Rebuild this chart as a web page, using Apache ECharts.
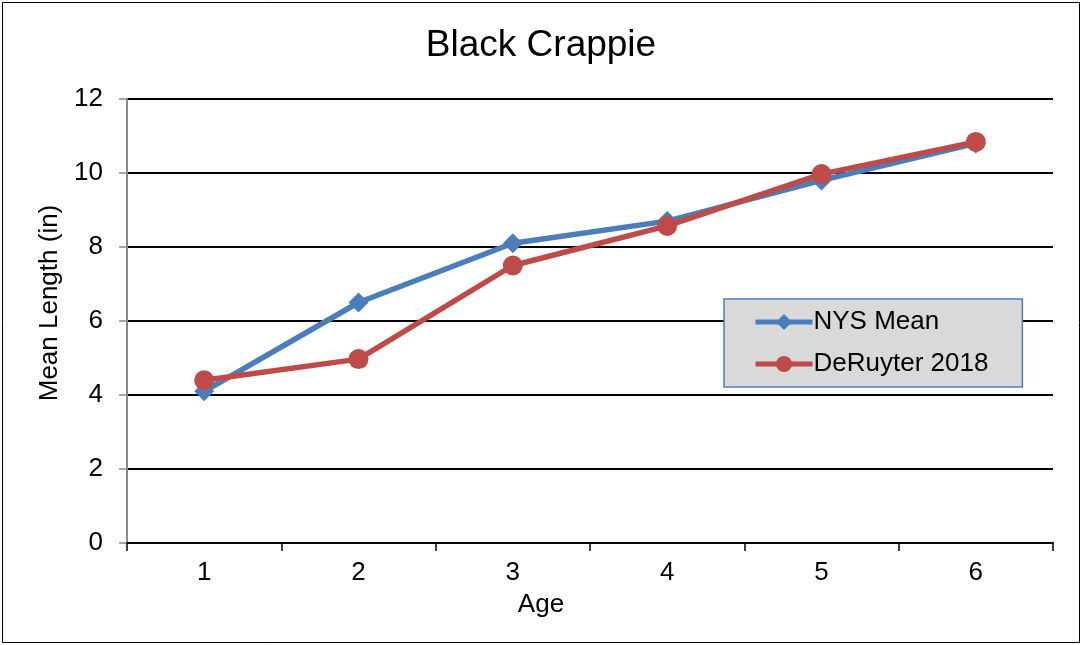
<!DOCTYPE html>
<html>
<head>
<meta charset="utf-8">
<script src="https://cdn.jsdelivr.net/npm/echarts@6/dist/echarts.min.js"></script>
<style>
  html, body { margin: 0; padding: 0; background: #fff; }
  #chart { width: 1082px; height: 645px; }
</style>
</head>
<body>
<div id="chart"></div>
<script>
// ages on the x axis
const ages = ['1', '2', '3', '4', '5', '6'];
// mean length (in) per age
const nysMean = [4.1, 6.5, 8.1, 8.7, 9.8, 10.8];
const deRuyter2018 = [4.4, 4.97, 7.5, 8.57, 9.97, 10.84];

const FONT = 'Liberation Sans, Arial, sans-serif';
const BLUE = '#4a7ebb';
const RED = '#be4b48';

const chart = echarts.init(document.getElementById('chart'), null, { renderer: 'canvas' });

chart.setOption({
  backgroundColor: '#fff',
  animation: false,
  title: {
    text: 'Black Crappie',
    left: 'center',
    top: 22,
    textStyle: { fontFamily: FONT, fontSize: 37, fontWeight: 'normal', color: '#000' }
  },
  graphic: [{
    type: 'rect',
    shape: { x: 2.5, y: 2.5, width: 1077, height: 640 },
    style: { fill: 'none', stroke: '#000', lineWidth: 1 },
    silent: true
  }],
  legend: {
    left: 724,
    top: 299,
    orient: 'vertical',
    backgroundColor: '#d9d9d9',
    borderColor: BLUE,
    borderWidth: 1.5,
    borderRadius: 0,
    padding: [10, 34, 10, 29],
    itemGap: 16,
    itemWidth: 57,
    itemHeight: 20,
    lineStyle: { width: 5 },
    textStyle: { fontFamily: FONT, fontSize: 26, color: '#000', padding: [0, 0, 0, -4] },
    data: ['NYS Mean', 'DeRuyter 2018']
  },
  grid: { left: 127, right: 29, top: 99, bottom: 102 },
  xAxis: {
    type: 'category',
    data: ages,
    boundaryGap: true,
    name: 'Age',
    nameLocation: 'middle',
    nameGap: 49,
    // pushed left so it sits under the chart centre, not the plot centre
    nameTextStyle: { fontFamily: FONT, fontSize: 26, color: '#000', padding: [0, 98, 0, 0] },
    axisLine: { lineStyle: { color: '#000', width: 2 } },
    axisTick: { show: true, interval: 0, length: 8, lineStyle: { color: '#000', width: 1.5 } },
    axisLabel: { fontFamily: FONT, fontSize: 26, color: '#000', margin: 17 }
  },
  yAxis: {
    type: 'value',
    min: 0,
    max: 12,
    interval: 2,
    name: 'Mean Length (in)',
    nameLocation: 'middle',
    nameGap: 64,
    nameTextStyle: { fontFamily: FONT, fontSize: 26, color: '#000', padding: [0, 0, 0, 36] },
    axisLine: { show: true, lineStyle: { color: '#888', width: 2 } },
    axisTick: { show: true, length: 8, lineStyle: { color: '#888', width: 1.5 } },
    axisLabel: { fontFamily: FONT, fontSize: 26, color: '#000', margin: 24 },
    splitLine: { show: true, lineStyle: { color: '#000', width: 2 } }
  },
  series: [
    {
      name: 'NYS Mean',
      type: 'line',
      data: nysMean,
      color: BLUE,
      symbol: 'diamond',
      symbolSize: 20,
      lineStyle: { width: 5.5, color: BLUE },
      itemStyle: { color: BLUE }
    },
    {
      name: 'DeRuyter 2018',
      type: 'line',
      data: deRuyter2018,
      color: RED,
      symbol: 'circle',
      symbolSize: 20,
      lineStyle: { width: 5.5, color: RED },
      itemStyle: { color: RED }
    }
  ]
});

window.addEventListener('resize', () => chart.resize());
</script>
</body>
</html>
